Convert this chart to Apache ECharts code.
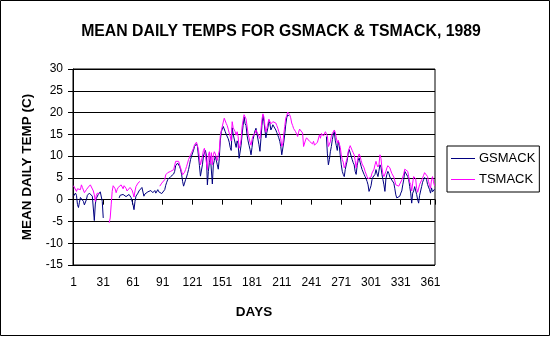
<!DOCTYPE html>
<html>
<head>
<meta charset="utf-8">
<script src="https://cdn.jsdelivr.net/npm/echarts@6/dist/echarts.min.js"></script>
<style>
  html, body { margin: 0; padding: 0; background: #fff; }
  #chart { width: 552px; height: 338px; }
</style>
</head>
<body>
<div id="chart"></div>
<script>
// Mean daily temperatures (°C), 1989, one value per day; null = no reading
const GSMACK = [
  0.8, 1.2, 1.5, 1.0, -1.1, -1.8, -0.6, 0.5, 0.8, 0.2,
  -0.4, -1.2, -0.8, 0.0, 1.0, 1.3, 1.5, 1.2, 1.1, 0.8,
  0.8, -4.8, -1.0, 0.3, 0.5, 1.2, 1.4, 1.8, 1.9, -0.4, -4.2,
  null, null, null, null, null, null, null, null, null, null, null, null, null, null, null,
  0.4, 1.0, 1.3, 1.1, 1.2, 1.5, 1.0, 0.7, 0.4, 0.8, 1.2, 0.9, 0.5, 0.2,
  -1.1, -2.3, -0.4, 0.8, 0.8, 1.5, 2.0, 2.3, 2.4, 2.8,
  3.1, 0.8, 1.3, 1.5, 1.6, 1.8, 1.7, 1.8, 2.1, 2.3,
  1.6, 1.8, 2.1, 1.5, 1.6, 2.3, 1.8, 1.5, 1.9, 1.4,
  1.1, 1.8, 2.3, 3.3, 4.0, 4.6, 4.8, 5.0, 5.3, 5.7,
  5.7, 5.9, 6.5, 7.8, 8.0, 8.4, 8.0, 7.6, 6.9, 5.8,
  4.2, 3.1, 3.8, 4.6, 5.2, 6.0, 6.9, 8.0, 9.2, 10.0,
  10.3, 11.3, 12.2, 12.6, 12.8, 12.2, 10.0, 7.8, 5.4, 5.3,
  8.0, 10.0, 10.7, 11.3, 10.2, 3.4, 6.5, 8.5, 10.0, 10.3,
  3.6, 8.0, 9.0, 10.0, 10.3, 8.0, 7.0, 9.5, 13.5, 15.6,
  16.2, 16.8, 17.2, 15.6, 15.0, 14.8, 14.0, 13.2, 12.0, 11.3,
  16.5, 15.0, 14.8, 13.0, 12.0, 13.5, 12.8, 9.5, 9.8, 12.5,
  15.0, 17.0, 19.0, 17.5, 17.0, 14.8, 13.5, 12.5, 11.5, 10.3,
  12.0, 13.8, 14.8, 15.8, 16.4, 16.0, 16.4, 12.6, 11.1, 14.0,
  17.0, 19.3, 18.0, 16.0, 14.2, 15.5, 16.5, 18.0, 17.5, 16.0,
  16.5, 17.2, 17.6, 16.8, 16.0, 15.4, 14.8, 14.2, 13.4, 12.2,
  10.3, 10.5, 13.2, 15.0, 17.2, 18.8, 19.5, 19.2,
  null, null, null, null, null, null, null, null, null, null,
  null, null, null, null, null, null, null, null, null, null,
  null, null, null, null, null, null, null, null, null, null,
  null, null, null, null, null, null, null,
  14.5, 10.5, 8.0, 9.2, 11.0,
  12.2, 13.8, 15.0, 15.6, 13.5, 12.4, 11.3, 13.5, 12.4, 10.0,
  8.0, 6.5, 5.8, 5.3, 6.9, 8.0, 9.0, 10.7, 11.5, 11.8,
  11.3, 9.2, 8.5, 8.0, 6.5, 5.8, 7.8, 9.0, 9.6, 8.6,
  7.7, 6.9, 6.5, 5.8, 5.3, 4.8, 4.2, 3.4, 1.9, 2.5,
  3.2, 4.6, 5.2, 5.0, 5.8, 6.9, 6.0, 5.3, 5.6, 8.0,
  7.5, 5.8, 4.6, 3.4, 1.9, 4.8, 5.8, 6.5, 6.0, 5.2,
  4.9, 4.5, 4.2, 3.8, 2.5, 1.1, 0.4, 0.3, 0.2, 0.8,
  1.5, 2.0, 3.4, 4.6, 6.5, 6.9, 6.5, 5.3, 4.6, 3.0,
  1.5, -0.8, 1.5, 2.0, 3.0, 3.0, 1.2, 0.0, -0.8, 1.0,
  1.3, 3.0, 4.0, 4.6, 5.1, 5.3, 4.6, 3.5, 3.8, 2.3,
  1.5, 2.7, 1.8, 1.9, 2.4
];

const TSMACK = [
  3.2, 3.3, 2.8, 1.9, 2.5, 2.8, 2.6, 2.3, 3.4, 2.8,
  2.5, 1.6, 1.5, 2.3, 2.6, 2.9, 3.2, 3.4, 3.1, 3.4,
  2.0, 1.1, -0.4, 1.0, 1.5, 1.2, 1.4,
  null, null, null, null, null, null, null, null, null,
  -5.3, -4.2, -1.2, 1.9,
  3.2, 3.0, 2.5, 1.6, 2.3, 2.8, 3.0, 3.2, 3.4, 3.0,
  2.5, 3.2, 3.4, 2.6, 2.0, 1.6, 2.3, 2.8, 2.6, 2.2,
  1.5, 0.6, 2.0, 3.0, 3.2, 3.8, 4.0, 4.2,
  null, null, null, null, null, null, null, null, null, null,
  null, null, null, null, null, null, null, null, null,
  3.1, 3.3, 3.8,
  3.4, 4.2, 4.6, 5.7, 6.0, 6.2, 6.0, 5.9, 6.5, 6.3,
  6.2, 6.9, 7.3, 8.8, 9.2, 9.0, 8.8, 8.4, 7.3, 6.5,
  5.7, 6.0, 6.3, 6.9, 7.6, 8.4, 9.2, 9.6, 10.3, 10.8,
  11.0, 11.8, 12.6, 13.0, 13.2, 13.0, 11.5, 9.6, 8.0, 7.7,
  10.0, 11.3, 11.8, 12.2, 11.8, 6.9, 10.2, 11.0, 8.2, 10.8,
  8.0, 10.3, 11.0, 10.5, 10.3, 9.0, 10.3, 11.2, 14.6, 15.8,
  16.8, 17.8, 18.7, 18.8, 17.5, 17.0, 16.2, 15.3, 14.6, 13.5,
  17.9, 16.5, 16.6, 15.6, 14.8, 15.6, 14.5, 11.8, 12.5, 13.8,
  16.8, 18.2, 19.5, 19.9, 18.5, 16.9, 15.2, 14.2, 13.2, 12.5,
  13.8, 14.6, 14.6, 15.3, 16.0, 15.8, 16.0, 14.5, 14.0, 16.0,
  18.4, 19.7, 19.0, 17.0, 15.5, 16.4, 17.5, 18.5, 18.0, 17.4,
  17.0, 17.9, 18.2, 18.2, 17.6, 17.0, 16.4, 15.6, 15.0, 14.0,
  12.2, 12.8, 15.0, 16.8, 18.7, 19.3, 20.1, 20.0, 19.5, 18.8,
  17.6, 17.0, 16.3, 16.0, 15.6, 15.3, 14.5, 15.5, 16.2, 16.4,
  16.0, 15.3, 12.2, 12.6, 13.7, 14.2, 14.4, 14.0, 13.4, 13.2,
  13.7, 12.8, 13.4, 12.5, 12.8, 12.9, 13.2, 13.0, 14.9, 14.1,
  15.2, 15.6, 14.6, 14.9, 15.6, 15.2, 14.6, 12.2, 11.8, 13.3,
  14.6, 15.2, 15.6, 16.0, 15.4, 14.2, 13.0, 13.6, 14.0, 12.0,
  10.3, 9.2, 8.6, 7.3, 7.9, 8.8, 9.6, 11.0, 11.8, 12.4,
  12.0, 11.3, 10.8, 10.3, 9.0, 7.3, 8.6, 9.8, 10.5, 10.0,
  9.0, 8.2, 7.9, 7.3, 6.5, 6.3, 5.3, 4.8, 4.6, 4.6,
  5.2, 6.1, 6.5, 7.0, 8.0, 8.8, 8.0, 7.5, 8.0, 10.3,
  9.5, 7.3, 5.9, 5.3, 5.0, 6.5, 7.3, 7.8, 8.0, 7.3,
  6.6, 6.0, 5.6, 5.2, 4.3, 3.4, 3.1, 3.0, 3.1, 3.6,
  4.0, 4.5, 5.2, 5.9, 7.0, 7.3, 7.2, 6.5, 5.3, 4.0,
  3.5, 2.0, 3.8, 5.3, 5.3, 4.8, 2.6, 1.7, 1.5, 3.5,
  3.6, 4.5, 5.0, 5.6, 6.2, 6.5, 6.2, 5.3, 4.2, 3.2,
  2.6, 4.6, 5.3, 4.1, 3.2
];

// Day numbers 1..365 along the category axis
const DAYS = Array.from({ length: GSMACK.length }, (_, i) => String(i + 1));

// Value axis range
const Y_MIN = -15;
const Y_MAX = 30;
const Y_STEP = 5;

const FONT = '"Liberation Sans", Arial, sans-serif';

const chart = echarts.init(document.getElementById('chart'), null, { renderer: 'canvas' });

chart.setOption({
  animation: false,
  backgroundColor: '#ffffff',
  textStyle: { fontFamily: FONT, color: '#000' },
  title: {
    text: 'MEAN DAILY TEMPS FOR GSMACK & TSMACK, 1989',
    left: 276, textAlign: 'center',
    top: 19,
    textStyle: { fontFamily: FONT, fontSize: 15.8, fontWeight: 'bold', color: '#000' }
  },
  graphic: [{
    type: 'rect',
    shape: { x: 0.5, y: 0.5, width: 549, height: 335 },
    style: { fill: 'none', stroke: '#000', lineWidth: 1 },
    silent: true
  }],
  legend: {
    orient: 'vertical',
    left: 447, top: 146,
    padding: [6, 4, 6, 4],
    itemGap: 8,
    icon: 'rect',
    itemWidth: 24, itemHeight: 1,
    borderColor: '#000', borderWidth: 1,
    textStyle: { fontFamily: FONT, fontSize: 13, color: '#000', padding: [0, 0, 0, -1] },
    data: ['GSMACK', 'TSMACK']
  },
  grid: {
    left: 73, top: 69, width: 362, height: 196,
    show: true, borderColor: '#000', borderWidth: 1, backgroundColor: '#fff'
  },
  xAxis: {
    type: 'category',
    data: DAYS,
    boundaryGap: true,
    name: 'DAYS',
    nameLocation: 'middle',
    nameGap: 40,
    nameTextStyle: { fontFamily: FONT, fontSize: 13.5, fontWeight: 'bold', color: '#000' },
    axisLine: { lineStyle: { color: '#000', width: 1 } },
    axisTick: { show: true, interval: 29, length: 5, lineStyle: { color: '#000' } },
    axisLabel: { interval: 29, margin: 12, fontSize: 12, color: '#000', fontFamily: FONT },
    splitLine: { show: false }
  },
  yAxis: {
    type: 'value',
    min: Y_MIN, max: Y_MAX, interval: Y_STEP,
    name: 'MEAN DAILY TEMP (C)',
    nameLocation: 'middle',
    nameRotate: 90,
    nameGap: 36,
    nameTextStyle: { fontFamily: FONT, fontSize: 13.5, fontWeight: 'bold', color: '#000' },
    axisLine: { show: true, lineStyle: { color: '#000', width: 1 } },
    axisTick: { show: true, length: 5, lineStyle: { color: '#000' } },
    axisLabel: { margin: 10, fontSize: 12, color: '#000', fontFamily: FONT },
    splitLine: { show: true, lineStyle: { color: '#000', width: 1 } }
  },
  series: [
    {
      name: 'GSMACK', type: 'line', data: GSMACK,
      symbol: 'none', connectNulls: false,
      lineStyle: { color: '#000080', width: 1 },
      itemStyle: { color: '#000080' }
    },
    {
      name: 'TSMACK', type: 'line', data: TSMACK,
      symbol: 'none', connectNulls: false,
      lineStyle: { color: '#ff00ff', width: 1 },
      itemStyle: { color: '#ff00ff' }
    }
  ]
});
</script>
</body>
</html>
